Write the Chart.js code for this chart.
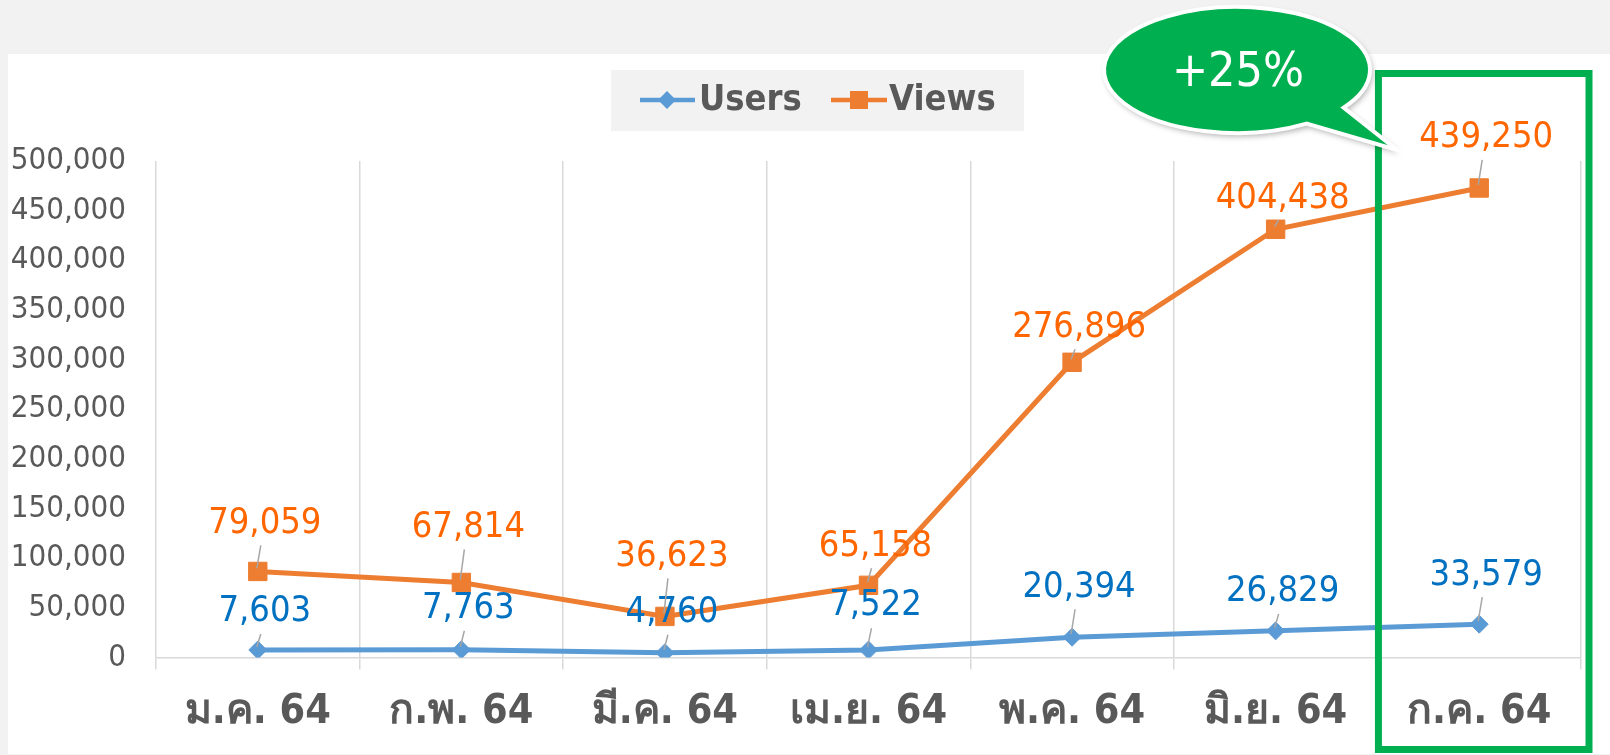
<!DOCTYPE html>
<html lang="th">
<head>
<meta charset="UTF-8">
<title>Users / Views</title>
<script src="https://cdn.jsdelivr.net/npm/chart.js@4.4.1/dist/chart.umd.min.js"></script>
<style>
    html, body { margin: 0; padding: 0; background: #f2f2f2; }
    #wrap { width: 1610px; height: 755px; }
</style>
</head>
<body>
<div id="wrap"><canvas id="myChart" width="1610" height="755"></canvas></div>

<script type="text/javascript">
    // data
    var months = ["ม.ค. 64", "ก.พ. 64", "มี.ค. 64", "เม.ย. 64", "พ.ค. 64", "มิ.ย. 64", "ก.ค. 64"];
    var users = [7603, 7763, 4760, 7522, 20394, 26829, 33579];
    var views = [79059, 67814, 36623, 65158, 276896, 404438, 439250];
    var yTicks = [0, 50000, 100000, 150000, 200000, 250000, 300000, 350000, 400000, 450000, 500000];
    var calloutText = "+25%";

    var FONT = "'DejaVu Sans Condensed', 'DejaVu Sans', 'Liberation Sans', sans-serif";

    function fmt(v) {
        return v.toLocaleString("en-US");
    }

    // gray page + white panel behind the chart
    var panelPlugin = {
        id: "panel",
        beforeDraw: function (chart) {
            var c = chart.ctx;
            c.save();
            c.fillStyle = "#f2f2f2";
            c.fillRect(0, 0, chart.width, chart.height);
            c.fillStyle = "#ffffff";
            c.fillRect(8, 54, chart.width - 8, chart.height - 55);
            c.restore();
        }
    };

    // value labels with small leader lines (labels were dragged by hand, so each has its own lift)
    var labelPlugin = {
        id: "valueLabels",
        afterDatasetsDraw: function (chart) {
            var c = chart.ctx;
            c.save();
            c.font = "36px " + FONT;
            c.textAlign = "center";
            c.textBaseline = "middle";
            chart.data.datasets.forEach(function (ds, i) {
                var meta = chart.getDatasetMeta(i);
                meta.data.forEach(function (pt, j) {
                    var lx = pt.x + 7;
                    var ly = pt.y - ds.labelLift[j];
                    c.strokeStyle = "#a6a6a6";
                    c.lineWidth = 1.5;
                    c.beginPath();
                    c.moveTo(pt.x - 1, pt.y - 3);
                    c.lineTo(pt.x + 3, Math.min(ly + 22, pt.y - 3));
                    c.stroke();
                    c.fillStyle = ds.labelColor;
                    c.fillText(fmt(ds.data[j]), lx, ly);
                });
            });
            c.restore();
        }
    };

    // legend box, highlight frame and speech bubble
    var extrasPlugin = {
        id: "extras",
        afterDraw: function (chart) {
            var c = chart.ctx;
            var xs = chart.scales.x;
            var area = chart.chartArea;
            c.save();

            // legend
            c.fillStyle = "#f2f2f2";
            c.fillRect(611, 70, 413, 61);
            var ly = 100;
            c.lineWidth = 4.5;
            c.strokeStyle = "#5b9bd5";
            c.beginPath(); c.moveTo(640, ly); c.lineTo(695, ly); c.stroke();
            c.fillStyle = "#5b9bd5";
            c.beginPath();
            c.moveTo(667, ly - 9); c.lineTo(676, ly); c.lineTo(667, ly + 9); c.lineTo(658, ly);
            c.closePath(); c.fill();
            c.strokeStyle = "#ed7d31";
            c.beginPath(); c.moveTo(831, ly); c.lineTo(887, ly); c.stroke();
            c.fillStyle = "#ed7d31";
            c.fillRect(850, ly - 9, 18, 18);
            c.fillStyle = "#595959";
            c.font = "bold 36px " + FONT;
            c.textAlign = "left";
            c.textBaseline = "middle";
            c.fillText("Users", 699, ly + 1);
            c.fillText("Views", 889, ly + 1);

            // green frame around last month
            var last = xs.getPixelForValue(months.length - 1);
            var w = (area.right - area.left) / months.length;
            c.strokeStyle = "#00b050";
            c.lineWidth = 7;
            c.strokeRect(last - w / 2 + 1, 73.5, w + 7, 676);

            // speech bubble
            var cx = 1237, cy = 70, rx = 133, ry = 63;
            c.beginPath();
            c.ellipse(cx, cy, rx, ry, 0, 1.02, 0.64 + Math.PI * 2, false);
            c.lineTo(1397, 150);
            c.closePath();
            c.shadowColor = "rgba(0,0,0,0.35)";
            c.shadowBlur = 6;
            c.shadowOffsetX = 2;
            c.shadowOffsetY = 3;
            c.fillStyle = "#00b050";
            c.fill();
            c.shadowColor = "transparent";
            c.strokeStyle = "#ffffff";
            c.lineWidth = 4;
            c.stroke();
            c.fillStyle = "#ffffff";
            c.font = "48px " + FONT;
            c.textAlign = "center";
            c.fillText(calloutText, 1238, 74);
            c.restore();
        }
    };

    var ctx = document.getElementById("myChart");
    new Chart(ctx, {
        type: "line",
        data: {
            labels: months,
            datasets: [{
                label: "Users",
                data: users,
                borderColor: "#5b9bd5",
                backgroundColor: "#5b9bd5",
                labelColor: "#0070c0",
                labelLift: [38, 41, 40, 44, 50, 39, 49],
                borderWidth: 5,
                pointStyle: "rectRot",
                pointRadius: 9,
                pointBorderWidth: 1,
                fill: false,
                tension: 0
            }, {
                label: "Views",
                data: views,
                borderColor: "#ed7d31",
                backgroundColor: "#ed7d31",
                labelColor: "#ff6600",
                labelLift: [48, 55, 60, 39, 35, 31, 50],
                borderWidth: 5,
                pointStyle: "rect",
                pointRadius: 13,
                pointBorderWidth: 1,
                fill: false,
                tension: 0
            }]
        },
        options: {
            responsive: false,
            animation: false,
            layout: { padding: { top: 161, right: 29, left: 0, bottom: 0 } },
            plugins: {
                legend: { display: false },
                tooltip: { enabled: false }
            },
            scales: {
                x: {
                    offset: true,
                    grid: { offset: true, color: "#d9d9d9", lineWidth: 1.5, tickLength: 12 },
                    border: { color: "#d9d9d9", width: 1.5 },
                    ticks: { color: "#595959", font: { family: FONT, size: 41, weight: "bold" }, padding: 18 },
                    afterFit: function (s) { s.height = 97.5; }
                },
                y: {
                    stacked: true,
                    min: yTicks[0],
                    max: yTicks[yTicks.length - 1],
                    afterBuildTicks: function (s) {
                        s.ticks = yTicks.map(function (v) { return { value: v }; });
                    },
                    grid: { display: false },
                    border: { display: false },
                    ticks: {
                        color: "#595959",
                        font: { family: FONT, size: 31 },
                        padding: 22,
                        callback: function (v) { return fmt(v); }
                    },
                    afterFit: function (s) { s.width = 156; }
                }
            }
        },
        plugins: [panelPlugin, labelPlugin, extrasPlugin]
    });
</script>
</body>
</html>
